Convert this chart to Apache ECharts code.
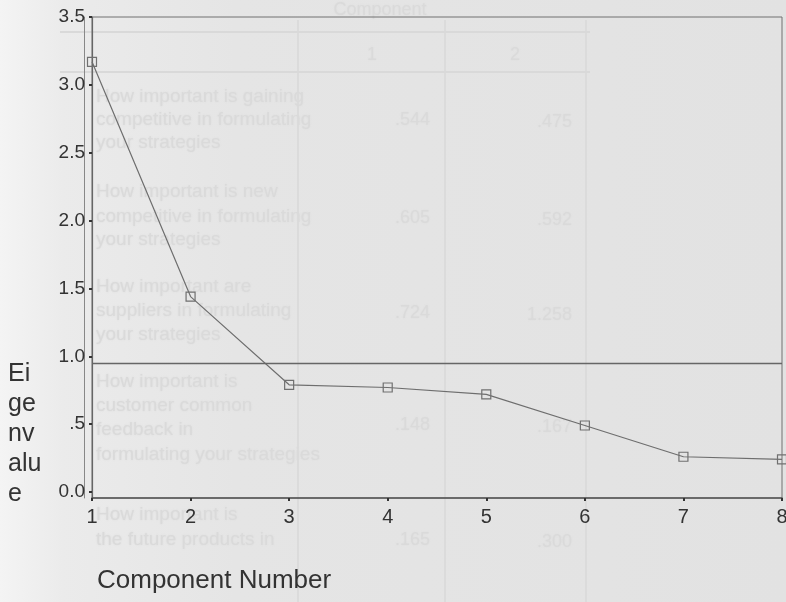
<!DOCTYPE html>
<html>
<head>
<meta charset="utf-8">
<script src="https://cdn.jsdelivr.net/npm/echarts@6/dist/echarts.min.js"></script>
<style>
html,body{margin:0;padding:0;background:#e4e4e4;}
#chart{width:786px;height:602px;}
</style>
</head>
<body>
<div id="chart"></div>
<script>
// ---- data ----
const components = ['1', '2', '3', '4', '5', '6', '7', '8'];
const eigenvalues = [3.17, 1.44, 0.79, 0.77, 0.72, 0.49, 0.26, 0.24];
const yTickValues = [0, 0.5, 1.0, 1.5, 2.0, 2.5, 3.0, 3.5];
const referenceLine = 0.95;
const yTitle = 'Ei\nge\nnv\nalu\ne';
const xTitle = 'Component Number';
// faint bleed-through text of a table behind the printed chart
const ghostRowText = [
  'How important is gaining', 'competitive in formulating', 'your strategies',
  'How important is new', 'competitive in formulating', 'your strategies',
  'How important are', 'suppliers in formulating', 'your strategies',
  'How important is', 'customer common', 'feedback in', 'formulating your strategies',
  'How important is', 'the future products in'
];
const ghostNumCol1 = ['.544', '.605', '.724', '.148', '.165'];
const ghostNumCol2 = ['.475', '.592', '1.258', '.167', '.300'];

const FONT = '"Liberation Sans", Arial, Helvetica, sans-serif';
const chart = echarts.init(document.getElementById('chart'));

const ghostColor = '#dadada';
const ghostText = (t, x, y, size, align) => ({
  type: 'text', z: -4, x: x, y: y,
  style: {text: t, fill: ghostColor, font: size + 'px ' + FONT, textAlign: align || 'left',
          textVerticalAlign: 'middle', textShadowColor: '#dcdcdc', textShadowBlur: 2}
});
const ghostRowY = [97, 120, 143, 192, 217, 240, 287, 311, 335, 382, 406, 430, 455, 515, 540];
const ghostNumY = [120, 218, 313, 425, 540];
const graphics = [];
[298, 445, 586].forEach(x => graphics.push({type:'line', z:-5, shape:{x1:x,y1:20,x2:x,y2:602}, style:{stroke:'#dbdbdb', lineWidth:2}}));
[32, 72].forEach(y => graphics.push({type:'line', z:-5, shape:{x1:60,y1:y,x2:590,y2:y}, style:{stroke:'#d9d9d9', lineWidth:2}}));
ghostRowText.forEach((t, i) => graphics.push(ghostText(t, 96, ghostRowY[i], 19)));
ghostNumCol1.forEach((t, i) => graphics.push(ghostText(t, 430, ghostNumY[i], 18, 'right')));
ghostNumCol2.forEach((t, i) => graphics.push(ghostText(t, 572, ghostNumY[i] + 2, 18, 'right')));
graphics.push(ghostText('Component', 380, 10, 18, 'center'));
graphics.push(ghostText('1', 372, 55, 18, 'center'));
graphics.push(ghostText('2', 515, 55, 18, 'center'));

const labelFmt = v => {
  if (Math.abs(v) < 1e-9) return '0.0';
  if (Math.abs(v - 0.5) < 1e-9) return '.5';
  return v.toFixed(1);
};

chart.setOption({
  animation: false,
  backgroundColor: {
    type: 'linear', x: 0, y: 0, x2: 1, y2: 0,
    colorStops: [
      {offset: 0, color: '#f4f4f4'},
      {offset: 0.08, color: '#ebebeb'},
      {offset: 0.3, color: '#e5e5e5'},
      {offset: 1, color: '#e2e2e2'}
    ]
  },
  textStyle: {fontFamily: FONT},
  graphic: graphics,
  title: [
    {text: yTitle, left: 8, top: 359, padding: 0,
     textStyle: {fontSize: 25, fontWeight: 'normal', color: '#333', lineHeight: 30, fontFamily: FONT}},
    {text: xTitle, left: 97, top: 568, padding: 0,
     textStyle: {fontSize: 26, fontWeight: 'normal', color: '#333', fontFamily: FONT}}
  ],
  grid: {left: 92, right: 4, top: 17, bottom: 104, show: true, outerBoundsMode: 'none', containLabel: false,
         borderColor: '#707070', borderWidth: 1, backgroundColor: 'transparent'},
  xAxis: {
    type: 'category',
    data: components,
    boundaryGap: false,
    axisLine: {onZero: false, lineStyle: {color: '#555', width: 1.5}},
    axisTick: {show: true, length: 3, lineStyle: {color: '#333', width: 2}},
    axisLabel: {fontSize: 20, color: '#333', margin: 9, fontFamily: FONT},
    splitLine: {show: false}
  },
  yAxis: [
    {
      type: 'value',
      min: -0.044,
      max: 3.5,
      axisLine: {show: true, lineStyle: {color: '#666', width: 1.2}},
      axisTick: {show: true, length: 3, customValues: yTickValues, lineStyle: {color: '#333', width: 2}},
      axisLabel: {fontSize: 19, color: '#333', margin: 7, customValues: yTickValues,
                  formatter: labelFmt, fontFamily: FONT},
      splitLine: {show: false}
    },
    {
      type: 'value',
      position: 'left',
      offset: 8,
      min: -0.044,
      max: 3.5,
      axisLine: {show: true, lineStyle: {color: '#888', width: 1}},
      axisTick: {show: false},
      axisLabel: {show: false},
      splitLine: {show: false}
    }
  ],
  series: [{
    type: 'line',
    data: eigenvalues,
    yAxisIndex: 0,
    symbol: 'rect',
    symbolSize: 9,
    lineStyle: {color: '#6e6e6e', width: 1.2},
    itemStyle: {color: 'rgba(0,0,0,0)', borderColor: '#707070', borderWidth: 1.2},
    emphasis: {disabled: true},
    markLine: {
      silent: true,
      symbol: ['none', 'none'],
      label: {show: false},
      lineStyle: {color: '#666', width: 1.3, type: 'solid'},
      data: [{yAxis: referenceLine}]
    },
    z: 3
  }]
});
</script>
</body>
</html>
